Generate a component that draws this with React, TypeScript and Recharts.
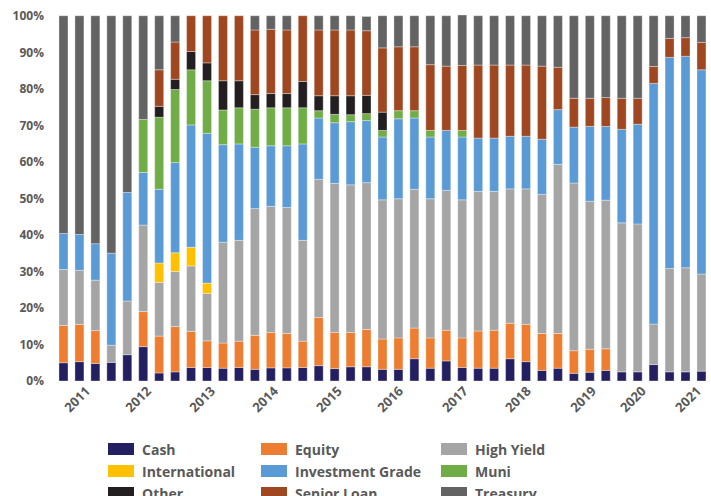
import React from "react";
import { BarChart, Bar, XAxis, YAxis } from "recharts";

// Quarterly allocation snapshots (percent of portfolio), oldest first
const cash = [5.0, 5.3, 4.8, 5.1, 7.2, 9.4, 2.2, 2.5, 3.7, 3.7, 3.5, 3.7, 3.2, 3.6, 3.6, 3.7, 4.2, 3.4, 3.9, 3.9, 3.2, 3.2, 6.1, 3.5, 5.5, 3.7, 3.5, 3.5, 6.1, 5.3, 2.9, 3.5, 2.1, 2.4, 2.9, 2.5, 2.5, 4.5, 2.5, 2.5, 2.7];
const equity = [10.2, 10.2, 9.0, 0, 0, 9.6, 10.1, 12.4, 9.9, 7.3, 6.9, 7.2, 9.3, 9.7, 9.4, 7.2, 13.2, 9.9, 9.4, 10.2, 8.3, 8.6, 8.4, 8.3, 8.4, 8.1, 10.2, 10.4, 9.7, 10.2, 10.1, 9.5, 6.2, 6.3, 5.9, 0, 0, 0, 0, 0, 0];
const highYield = [15.3, 14.8, 13.8, 4.7, 14.7, 23.7, 14.7, 15.1, 17.9, 13.0, 27.6, 27.6, 34.7, 34.5, 34.5, 27.6, 37.8, 40.8, 40.4, 40.2, 38.1, 38.1, 38.0, 38.1, 38.3, 37.8, 38.2, 38.0, 36.8, 37.1, 38.1, 46.3, 45.9, 40.5, 40.7, 40.8, 40.5, 11.1, 28.3, 28.5, 26.6];
const international = [0, 0, 0, 0, 0, 0, 5.3, 5.1, 5.1, 2.8, 0, 0, 0, 0, 0, 0, 0, 0, 0, 0, 0, 0, 0, 0, 0, 0, 0, 0, 0, 0, 0, 0, 0, 0, 0, 0, 0, 0, 0, 0, 0];
const investmentGrade = [9.9, 9.8, 10.0, 25.2, 29.7, 14.4, 20.2, 24.7, 33.5, 41.0, 26.7, 26.4, 16.8, 16.6, 16.9, 26.4, 16.8, 16.6, 17.3, 17.0, 17.2, 21.9, 19.5, 16.9, 16.4, 17.2, 14.6, 14.6, 14.4, 14.4, 15.1, 15.0, 15.3, 20.5, 20.2, 25.6, 27.3, 65.9, 57.8, 57.9, 55.9];
const muni = [0, 0, 0, 0, 0, 14.5, 19.7, 20.0, 15.1, 14.4, 9.5, 9.9, 10.4, 10.4, 10.4, 9.9, 2.0, 2.3, 1.9, 1.9, 1.8, 2.2, 2.0, 1.8, 0, 1.8, 0, 0, 0, 0, 0, 0, 0, 0, 0, 0, 0, 0, 0, 0, 0];
const other = [0, 0, 0, 0, 0, 0, 3.0, 2.8, 5.0, 4.9, 8.0, 7.4, 4.0, 3.9, 3.9, 7.2, 4.1, 5.1, 5.2, 5.0, 5.0, 0, 0, 0, 0, 0, 0, 0, 0, 0, 0, 0, 0, 0, 0, 0, 0, 0, 0, 0, 0];
const seniorLoan = [0, 0, 0, 0, 0, 0, 10.0, 10.2, 9.8, 12.9, 17.8, 17.8, 17.7, 17.6, 17.4, 18.0, 18.0, 18.0, 18.0, 17.7, 17.6, 17.5, 17.5, 18.0, 17.6, 17.8, 20.0, 20.0, 19.5, 19.5, 20.0, 11.6, 7.9, 7.7, 7.9, 8.5, 7.1, 4.6, 5.2, 5.1, 7.5];
const treasury = [59.6, 59.9, 62.4, 65.0, 48.4, 28.4, 14.8, 7.2, 0, 0, 0, 0, 3.9, 3.7, 3.9, 0, 3.9, 3.9, 3.9, 3.9, 8.8, 8.5, 8.5, 13.4, 13.8, 13.8, 13.5, 13.5, 13.5, 13.5, 13.8, 14.1, 22.6, 22.6, 22.4, 22.6, 22.6, 13.9, 6.2, 6.0, 7.3];

// Year labels and where they sit along the snapshot sequence
const yearLabels = ["2011", "2012", "2013", "2014", "2015", "2016", "2017", "2018", "2019", "2020", "2021"];
const yearTickAt = [1.76, 5.58, 9.59, 13.54, 17.55, 21.38, 25.45, 29.4, 33.48, 36.6, 40.06];

const yTicks = [0, 10, 20, 30, 40, 50, 60, 70, 80, 90, 100];

const seriesDefs = [
  { key: "cash", name: "Cash", color: "#241F60", values: cash },
  { key: "equity", name: "Equity", color: "#ED7D31", values: equity },
  { key: "highYield", name: "High Yield", color: "#A5A5A5", values: highYield },
  { key: "international", name: "International", color: "#FFC000", values: international },
  { key: "investmentGrade", name: "Investment Grade", color: "#5B9BD5", values: investmentGrade },
  { key: "muni", name: "Muni", color: "#70AD47", values: muni },
  { key: "other", name: "Other", color: "#231F20", values: other },
  { key: "seniorLoan", name: "Senior Loan", color: "#9E4721", values: seniorLoan },
  { key: "treasury", name: "Treasury", color: "#636363", values: treasury },
];

const data = cash.map((_, i) => {
  const row: Record<string, number> = { idx: i };
  seriesDefs.forEach((s) => {
    row[s.key] = s.values[i];
  });
  return row;
});

const FONT = "'Open Sans', 'DejaVu Sans', sans-serif";
const TEXT = "#595959";

const YearTick = (props: any) => {
  const { x, y, index } = props;
  const tx = x - 1;
  const ty = y + 3;
  return (
    <text
      x={tx}
      y={ty}
      textAnchor="end"
      transform={`rotate(-45 ${tx} ${ty})`}
      fill={TEXT}
      fontFamily={FONT}
      fontWeight={700}
      fontSize={13}
    >
      {yearLabels[index]}
    </text>
  );
};

export default function App() {
  const legendCols = [108, 261, 441];
  return (
    <div style={{ position: "absolute", left: 0, top: 0, width: 711, height: 496, background: "#fff", overflow: "hidden" }}>
      <BarChart width={711} height={496} data={data} margin={{ top: 15, right: 3, bottom: 0, left: 0 }} barSize={9}>
        <XAxis
          dataKey="idx"
          type="number"
          domain={[-0.75, 40.38]}
          ticks={yearTickAt}
          interval={0}
          axisLine={false}
          tickLine={false}
          height={115}
          tick={<YearTick />}
          allowDataOverflow
        />
        <YAxis
          type="number"
          domain={[0, 100]}
          ticks={yTicks}
          width={52}
          axisLine={false}
          tickLine={false}
          tickFormatter={(v: number) => `${v}%`}
          tick={{ fill: TEXT, fontFamily: FONT, fontWeight: 700, fontSize: 12 }}
        />
        {seriesDefs.map((s) => (
          <Bar
            key={s.key}
            dataKey={s.key}
            name={s.name}
            stackId="a"
            fill={s.color}
            stroke="#ffffff"
            strokeOpacity={0.45}
            strokeWidth={0.75}
            isAnimationActive={false}
          />
        ))}
      </BarChart>
      {seriesDefs.map((s, i) => {
        const col = i % 3;
        const row = Math.floor(i / 3);
        const left = legendCols[col];
        const top = 443 + row * 22;
        return (
          <div key={s.key} style={{ position: "absolute", left, top: top - 4, height: 20, display: "flex", alignItems: "center" }}>
            <div style={{ width: 26, height: 12, background: s.color, marginRight: 8 }} />
            <span style={{ fontFamily: FONT, fontWeight: 700, fontSize: 14, color: TEXT, whiteSpace: "nowrap" }}>{s.name}</span>
          </div>
        );
      })}
    </div>
  );
}
